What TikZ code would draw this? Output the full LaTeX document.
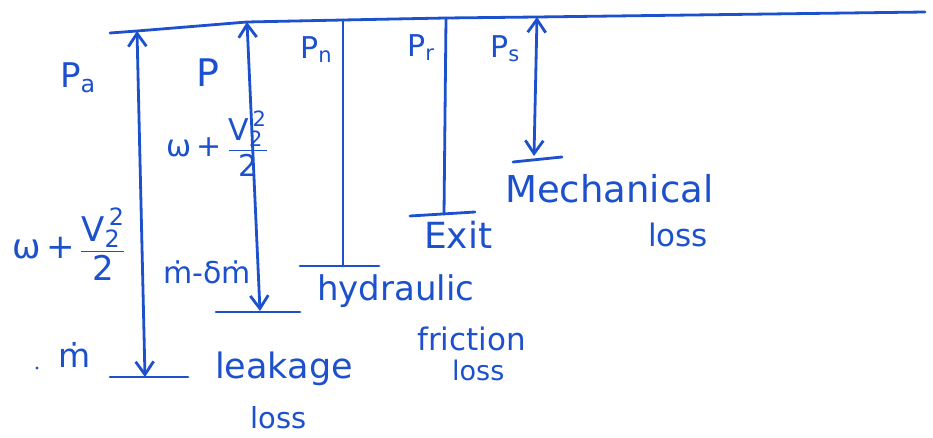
\documentclass[tikz,border=0pt]{standalone}
\usepackage{amsmath}
\usepackage{fontspec}
\setmainfont{DejaVu Sans}
\usetikzlibrary{arrows.meta}
\definecolor{ink}{RGB}{28,80,204}

\begin{document}
\begin{tikzpicture}[x=1pt,y=-1pt,
  pen/.style={draw=ink, line width=2.8pt, line cap=round, line join=round},
  tip/.tip={Straight Barb[length=13pt,width=18pt]},
  dim/.style={pen, tip-tip},
  lbl/.style={text=ink, inner sep=0pt, anchor=base west,
              font=\fontsize{#1}{#1}\selectfont},
  lbl/.default=32]
\path[use as bounding box] (0,0) rectangle (933,438);

% reference line along the top
\coordinate (t0)   at (110,33);
\coordinate (ta)   at (137,31);
\coordinate (tp)   at (247,22);
\coordinate (tn)   at (343,20);
\coordinate (tr)   at (446,18);
\coordinate (ts)   at (537,17);
\coordinate (tend) at (925,12);
\draw[pen] (t0) -- (ta) -- (tp) -- (tn) -- (tr) -- (ts) -- (tend);

% lower ends of the verticals and their bars
\coordinate (abot) at (145,377);
\coordinate (aL) at (110,377); \coordinate (aR) at (188,377);
\coordinate (pbot) at (260,311);
\coordinate (pL) at (216,312); \coordinate (pR) at (300,312);
\coordinate (nbot) at (343,266);
\coordinate (nL) at (300,266); \coordinate (nR) at (379,266);
\coordinate (rbot) at (444,214);
\coordinate (rL) at (410,216); \coordinate (rR) at (475,212);
\coordinate (sbot) at (534,156);
\coordinate (sL) at (513,162); \coordinate (sR) at (562,157);

% verticals
\draw[dim] (ta) -- (abot);
\draw[dim] (tp) -- (pbot);
\draw[pen] (tn) -- (nbot);
\draw[pen] (tr) -- (rbot);
\draw[dim] (ts) -- (sbot);

% bars
\draw[pen] (aL) -- (aR);
\draw[pen] (pL) -- (pR);
\draw[pen] (nL) -- (nR);
\draw[pen] (rL) -- (rR);
\draw[pen] (sL) -- (sR);

% power labels
\node[lbl=34] (Pa) at (60,88)  {$\text{P}_{\text{a}}$};
\node[lbl=38] (P)  at (196,87) {P};
\node[lbl=30] (Pn) at (300,59) {$\text{P}_{\text{n}}$};
\node[lbl=30] (Pr) at (407,57) {$\text{P}_{\text{r}}$};
\node[lbl=30] (Ps) at (490,58) {$\text{P}_{\text{s}}$};

% work per unit mass and mass flow
\node[lbl=34] (wa) at (12,258)
  {$\text{ω}\mathbin{\text{+}}\dfrac{\text{V}_{\text{2}}^{\,\text{2}}}{\text{2}}$};
\node[lbl=30] (wp) at (166,157)
  {$\text{ω}\mathbin{\text{+}}\dfrac{\text{V}_{\text{2}}^{\,\text{2}}}{\text{2}}$};
\node[lbl=33] (ma) at (58,367) {ṁ};
\node[lbl=30] (mp) at (163,283) {ṁ-δṁ};
\fill[ink] (37,368) circle (1.6pt);

% losses
\node[lbl=35] (leak)  at (215,378) {leakage};
\node[lbl=29] (leak2) at (250,428) {loss};
\node[lbl=34] (hyd)   at (317,300) {hydraulic};
\node[lbl=31] (fric)  at (417,350) {friction};
\node[lbl=27] (fric2) at (452,380) {loss};
\node[lbl=36] (exit)  at (424,248) {Exit};
\node[lbl=37] (mech)  at (505,203) {Mechanical};
\node[lbl=31] (mech2) at (648,246) {loss};
\end{tikzpicture}
\end{document}
